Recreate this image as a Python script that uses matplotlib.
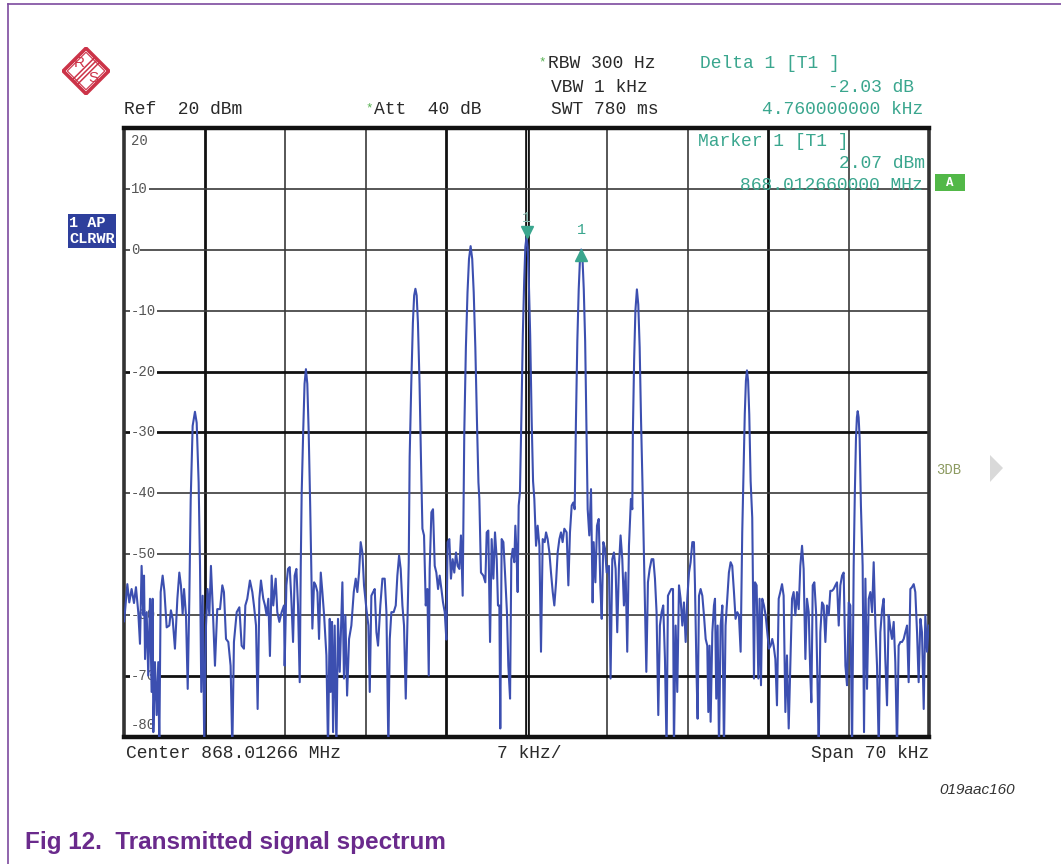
import numpy as np
import matplotlib
matplotlib.use('Agg')
from matplotlib import pyplot as plt
from matplotlib.lines import Line2D
from matplotlib.patches import Polygon, Rectangle
from matplotlib import transforms

W, H = 1061, 864

# trace, frequency offset from centre [kHz] and level [dBm]
freq_khz = [
    -35.00, -34.92, -34.71, -34.54, -34.34, -34.13, -33.96, -33.76, -33.61, -33.47,
    -33.32, -33.26, -33.17, -33.03, -32.89, -32.74, -32.60, -32.51, -32.45, -32.31,
    -32.16, -32.02, -31.93, -31.81, -31.64, -31.49, -31.29, -31.06, -30.92, -30.77,
    -30.57, -30.36, -30.19, -30.05, -29.90, -29.78, -29.61, -29.46, -29.32, -29.20,
    -29.03, -28.83, -28.68, -28.51, -28.39, -28.28, -28.16, -28.02, -27.87, -27.73,
    -27.58, -27.44, -27.29, -27.09, -26.89, -26.65, -26.45, -26.31, -26.13, -25.93,
    -25.73, -25.58, -25.44, -25.20, -24.97, -24.77, -24.57, -24.45, -24.28, -24.05,
    -23.84, -23.70, -23.52, -23.38, -23.23, -23.09, -22.89, -22.74, -22.60, -22.45,
    -22.31, -22.16, -22.02, -21.81, -21.67, -21.49, -21.29, -21.09, -21.03, -20.88,
    -20.74, -20.59, -20.45, -20.30, -20.16, -20.01, -19.87, -19.72, -19.63, -19.55,
    -19.42, -19.30, -19.18, -19.06, -18.94, -18.81, -18.62, -18.47, -18.33, -18.18,
    -18.04, -17.89, -17.75, -17.60, -17.40, -17.26, -17.11, -17.03, -16.91, -16.82,
    -16.68, -16.53, -16.39, -16.24, -16.10, -16.01, -15.87, -15.75, -15.60, -15.43,
    -15.23, -15.02, -14.85, -14.71, -14.56, -14.42, -14.27, -14.13, -13.92, -13.75,
    -13.63, -13.49, -13.34, -13.20, -13.05, -12.91, -12.71, -12.53, -12.33, -12.18,
    -12.01, -11.89, -11.75, -11.55, -11.37, -11.23, -11.08, -10.94, -10.79, -10.65,
    -10.50, -10.39, -10.24, -10.16, -10.02, -9.88, -9.77, -9.66, -9.55, -9.44,
    -9.30, -9.16, -9.05, -8.91, -8.76, -8.62, -8.50, -8.42, -8.27, -8.13,
    -7.98, -7.84, -7.69, -7.55, -7.40, -7.26, -7.11, -6.97, -6.86, -6.71,
    -6.57, -6.42, -6.28, -6.13, -5.99, -5.84, -5.70, -5.55, -5.41, -5.27,
    -5.13, -5.00, -4.86, -4.72, -4.59, -4.45, -4.31, -4.18, -4.10, -3.96,
    -3.75, -3.58, -3.46, -3.32, -3.17, -3.03, -2.88, -2.74, -2.59, -2.48,
    -2.36, -2.28, -2.16, -2.01, -1.87, -1.70, -1.58, -1.43, -1.32, -1.20,
    -1.06, -0.97, -0.86, -0.77, -0.68, -0.57, -0.45, -0.32, -0.20, -0.10,
    0.00, 0.10, 0.20, 0.32, 0.45, 0.57, 0.68, 0.83, 0.97, 1.12,
    1.26, 1.41, 1.58, 1.70, 1.84, 1.99, 2.13, 2.28, 2.42, 2.57,
    2.71, 2.86, 3.00, 3.14, 3.29, 3.49, 3.64, 3.78, 3.93, 4.07,
    4.19, 4.30, 4.42, 4.54, 4.65, 4.76, 4.87, 4.98, 5.10, 5.22,
    5.32, 5.46, 5.61, 5.75, 5.84, 5.99, 6.13, 6.28, 6.42, 6.54,
    6.68, 6.83, 6.97, 7.17, 7.31, 7.46, 7.60, 7.75, 7.89, 8.04,
    8.18, 8.33, 8.47, 8.62, 8.76, 8.91, 9.08, 9.20, 9.25, 9.36,
    9.47, 9.60, 9.72, 9.84, 9.96, 10.08, 10.27, 10.42, 10.56, 10.71,
    10.88, 11.03, 11.17, 11.31, 11.46, 11.60, 11.75, 11.89, 12.04, 12.18,
    12.30, 12.45, 12.59, 12.74, 12.82, 12.97, 13.11, 13.26, 13.40, 13.55,
    13.69, 13.84, 13.98, 14.13, 14.27, 14.42, 14.56, 14.65, 14.79, 14.88,
    15.00, 15.14, 15.29, 15.43, 15.58, 15.72, 15.81, 15.92, 16.01, 16.16,
    16.30, 16.39, 16.50, 16.62, 16.74, 16.88, 17.03, 17.17, 17.31, 17.46,
    17.60, 17.75, 17.89, 18.04, 18.18, 18.33, 18.47, 18.62, 18.76, 18.88,
    18.98, 19.08, 19.17, 19.27, 19.37, 19.49, 19.63, 19.78, 19.87, 20.01,
    20.16, 20.27, 20.39, 20.50, 20.65, 20.79, 20.94, 21.08, 21.23, 21.37,
    21.49, 21.64, 21.78, 21.93, 22.07, 22.22, 22.36, 22.51, 22.65, 22.80,
    22.94, 23.09, 23.23, 23.38, 23.52, 23.67, 23.81, 23.96, 24.10, 24.25,
    24.39, 24.54, 24.68, 24.77, 24.89, 25.03, 25.18, 25.32, 25.41, 25.55,
    25.70, 25.84, 25.99, 26.13, 26.28, 26.42, 26.57, 26.71, 26.86, 27.00,
    27.15, 27.29, 27.44, 27.58, 27.73, 27.87, 28.02, 28.16, 28.31, 28.45,
    28.55, 28.65, 28.73, 28.80, 28.88, 28.97, 29.08, 29.23, 29.35, 29.47,
    29.61, 29.76, 29.90, 30.05, 30.19, 30.34, 30.48, 30.63, 30.77, 30.92,
    31.06, 31.20, 31.35, 31.49, 31.64, 31.78, 31.93, 32.07, 32.22, 32.36,
    32.51, 32.65, 32.80, 32.94, 33.09, 33.23, 33.38, 33.52, 33.67, 33.81,
    33.96, 34.10, 34.25, 34.39, 34.54, 34.68, 34.83, 34.97,
]
level_dbm = [
    -61.0, -59.5, -54.9, -57.9, -55.7, -58.0, -55.4, -59.5, -64.7, -51.9,
    -60.0, -53.5, -67.2, -59.5, -69.9, -57.3, -72.6, -57.3, -79.2, -67.7,
    -76.4, -67.7, -82.0, -56.2, -53.5, -56.0, -62.0, -61.7, -59.2, -60.6,
    -65.5, -57.3, -53.0, -55.1, -59.8, -55.7, -60.0, -72.1, -57.3, -41.0,
    -28.9, -26.6, -28.4, -38.2, -51.9, -72.6, -56.8, -82.0, -61.7, -55.7,
    -60.0, -51.9, -58.4, -68.3, -59.0, -59.0, -55.1, -56.2, -63.9, -64.4,
    -68.3, -82.0, -64.4, -59.5, -58.7, -65.0, -65.5, -58.4, -57.3, -54.3,
    -56.2, -58.4, -61.7, -75.4, -57.3, -54.3, -57.3, -58.4, -60.0, -57.3,
    -66.7, -53.5, -58.4, -54.0, -59.5, -61.1, -59.5, -58.4, -68.3, -55.1,
    -52.4, -52.1, -57.3, -64.4, -53.5, -52.4, -58.4, -71.0, -51.9, -40.0,
    -30.0, -22.0, -19.6, -22.0, -30.0, -42.0, -62.2, -54.6, -55.1, -56.2,
    -63.9, -53.0, -56.2, -60.0, -66.6, -82.0, -60.6, -72.6, -61.1, -79.2,
    -61.7, -82.0, -60.6, -69.3, -60.6, -54.6, -70.4, -60.0, -73.2, -63.9,
    -61.7, -56.2, -54.0, -56.2, -53.0, -48.0, -49.7, -55.1, -59.0, -61.7,
    -72.6, -56.8, -56.2, -55.7, -62.8, -65.0, -58.4, -54.0, -54.0, -59.5,
    -82.0, -63.9, -59.5, -59.5, -58.4, -53.5, -50.2, -52.4, -58.4, -61.7,
    -73.7, -63.9, -51.3, -34.0, -22.0, -12.0, -7.5, -6.4, -7.5, -12.0,
    -22.0, -36.0, -45.8, -46.9, -58.4, -55.7, -69.9, -52.4, -43.1, -42.6,
    -51.9, -53.0, -55.7, -53.5, -55.7, -57.9, -59.5, -64.0, -48.0, -47.5,
    -54.0, -50.8, -53.0, -49.7, -51.9, -52.4, -46.9, -56.8, -30.0, -16.0,
    -7.0, -1.5, 0.6, -1.5, -7.0, -16.0, -28.0, -38.2, -40.9, -53.0,
    -53.5, -54.6, -46.4, -46.1, -64.4, -47.5, -54.0, -46.4, -50.8, -58.4,
    -58.4, -78.6, -47.5, -48.0, -53.0, -59.5, -68.3, -73.7, -50.8, -49.1,
    -51.3, -45.3, -50.2, -56.2, -42.0, -39.8, -28.0, -14.0, -5.0, 0.5,
    2.07, 0.5, -5.0, -14.0, -28.0, -38.0, -40.9, -48.6, -45.3, -48.6,
    -66.0, -47.5, -48.0, -46.4, -47.5, -49.7, -53.0, -56.2, -58.4, -54.6,
    -49.7, -47.5, -46.4, -48.0, -45.8, -46.4, -55.1, -46.4, -42.0, -41.5,
    -42.6, -28.0, -15.0, -6.5, -1.5, 0.04, -1.5, -6.5, -15.0, -30.0,
    -42.6, -46.9, -39.3, -57.9, -48.0, -54.6, -45.3, -44.2, -55.1, -60.6,
    -48.0, -49.1, -53.0, -51.9, -70.4, -50.8, -49.7, -52.4, -62.8, -51.9,
    -46.9, -50.8, -58.4, -53.0, -66.0, -48.6, -40.9, -42.6, -30.0, -18.0,
    -10.0, -6.5, -9.0, -16.0, -28.0, -38.0, -55.1, -69.3, -54.6, -52.4,
    -50.8, -50.8, -54.0, -59.5, -76.4, -61.7, -59.5, -58.4, -67.2, -82.0,
    -56.8, -56.2, -55.7, -55.7, -82.0, -61.7, -72.6, -55.1, -57.3, -61.7,
    -57.9, -64.4, -57.3, -53.0, -51.3, -48.0, -48.0, -55.1, -69.9, -77.0,
    -56.8, -55.7, -56.8, -60.0, -63.9, -65.0, -75.9, -65.0, -77.5, -62.8,
    -58.4, -57.3, -73.7, -61.7, -82.0, -61.7, -58.4, -82.0, -61.7, -57.3,
    -53.0, -51.3, -51.9, -56.2, -60.6, -59.5, -60.0, -66.0, -46.4, -36.0,
    -27.0, -21.5, -19.8, -21.5, -27.0, -38.0, -44.0, -70.4, -54.6, -55.1,
    -70.4, -57.3, -71.5, -57.3, -58.4, -60.0, -62.8, -65.5, -65.0, -63.9,
    -65.0, -67.2, -74.8, -57.3, -56.2, -54.9, -56.8, -75.9, -66.6, -78.6,
    -68.3, -57.3, -56.2, -60.0, -56.2, -59.0, -51.9, -48.6, -52.4, -67.2,
    -57.3, -59.5, -69.9, -74.3, -55.1, -54.6, -59.5, -72.6, -82.0, -62.8,
    -57.9, -58.4, -64.4, -58.4, -60.0, -56.0, -56.0, -55.7, -55.1, -54.6,
    -61.7, -55.1, -53.5, -53.0, -68.3, -71.5, -57.9, -58.4, -82.0, -51.9,
    -40.0, -31.0, -27.5, -26.5, -27.5, -31.0, -42.0, -51.9, -79.2, -54.0,
    -72.1, -57.3, -56.2, -59.5, -51.3, -61.7, -68.3, -82.0, -62.8, -59.0,
    -57.3, -67.2, -74.8, -60.0, -62.2, -63.9, -61.1, -67.7, -82.0, -65.0,
    -64.4, -64.4, -63.9, -62.8, -61.7, -71.0, -55.7, -55.4, -54.9, -56.2,
    -62.8, -71.0, -60.6, -62.8, -75.4, -60.0, -66.0, -61.7,
]
assert len(freq_khz) == len(level_dbm)

span_khz = 70
div_khz = 7
ref_dbm = 20
bottom_dbm = -80
y_labels = [20, 10, 0, -10, -20, -30, -40, -50, -60, -70, -80]

marker_f, marker_lvl = 0.0, 2.07
delta_f, delta_db = 4.76, -2.03

mono = 'Liberation Mono'
ink = '#2a2a2a'
teal = '#3aa68e'
trace_col = '#3c4fb0'


def put(x, y, s, **kw):
    kw.setdefault('family', mono)
    kw.setdefault('va', 'center')
    kw.setdefault('color', ink)
    return fig.text(x / W, 1 - y / H, s, **kw)


fig = plt.figure(figsize=(W / 100, H / 100), dpi=100)
fig.patch.set_facecolor('white')

ax = fig.add_axes([124 / W, 1 - 737 / H, 805 / W, 609 / H])
ax.set_xlim(-span_khz / 2, span_khz / 2)
ax.set_ylim(bottom_dbm, ref_dbm)
ax.set_xticks([])
ax.set_yticks([])
for s in ['top', 'bottom']:
    ax.spines[s].set_linewidth(3.2)
    ax.spines[s].set_color('#111111')
for s in ['left', 'right']:
    ax.spines[s].set_linewidth(2.6)
    ax.spines[s].set_color('#333333')

# graticule (scan shows some lines heavier than others)
thick_v = [-28, -7, 21]
thick_h = [-20, -30, -70]
for xv in np.arange(-35 + div_khz, 35, div_khz):
    if xv == 0:
        ax.axvline(0, color='#111111', lw=3.4, zorder=1)
        ax.axvline(0, color='#dddddd', lw=0.7, zorder=1)
    elif xv in thick_v:
        ax.axvline(xv, color='#111111', lw=2.0, zorder=1)
    else:
        ax.axvline(xv, color='#3a3a3a', lw=1.2, zorder=1)
for yv in np.arange(bottom_dbm + 10, ref_dbm, 10):
    if yv in thick_h:
        ax.axhline(yv, color='#111111', lw=2.0, zorder=1)
    else:
        ax.axhline(yv, color='#3a3a3a', lw=1.2, zorder=1)

# level labels inside the grid
ylab_tr = transforms.blended_transform_factory(ax.transAxes, ax.transData)
for v in y_labels:
    yy = v
    if v == ref_dbm:
        yy = v - 2.1
    if v == bottom_dbm:
        yy = v + 2.0
    ax.text(0.009, yy, str(v), transform=ylab_tr,
            family=mono, fontsize=10, color='#555555', va='center', ha='left', zorder=2,
            bbox=dict(facecolor='white', edgecolor='none', pad=0.6))

ax.plot(freq_khz, level_dbm, color=trace_col, lw=1.5, zorder=3, clip_on=True)

# markers
off_dn = transforms.ScaledTranslation(0, 0.055, fig.dpi_scale_trans)
off_up = transforms.ScaledTranslation(0, -0.055, fig.dpi_scale_trans)
ax.plot(marker_f, marker_lvl, marker='v', ms=9, color=teal, zorder=5,
        transform=ax.transData + off_dn, clip_on=False)
ax.plot(delta_f, marker_lvl + delta_db, marker='^', ms=9, color=teal, zorder=5,
        transform=ax.transData + off_up, clip_on=False)
ax.annotate('1', (marker_f, marker_lvl), xytext=(0, 19), textcoords='offset pixels',
            ha='center', va='center', family=mono, fontsize=11, color='#88bbb0', zorder=2)
ax.annotate('1', (delta_f, marker_lvl + delta_db), xytext=(0, 20), textcoords='offset pixels',
            ha='center', va='center', family=mono, fontsize=11, color=teal, zorder=4)

# header texts
put(124, 110, 'Ref  20 dBm', fontsize=13)
put(365, 108, '*', fontsize=9, color='#55b050')
put(374, 110, 'Att  40 dB', fontsize=13)
put(538, 62, '*', fontsize=9, color='#55b050')
put(548, 64, 'RBW 300 Hz', fontsize=13)
put(551, 87, 'VBW 1 kHz', fontsize=13)
put(551, 110, 'SWT 780 ms', fontsize=13)
put(700, 64, 'Delta 1 [T1 ]', fontsize=13, color=teal)
put(914, 87, f'{delta_db:.2f} dB', fontsize=13, color=teal, ha='right')
put(923, 110, f'{delta_f:.9f} kHz', fontsize=13, color=teal, ha='right')
put(698, 142, 'Marker 1 [T1 ]', fontsize=13, color=teal, zorder=6)
put(925, 164, f'{marker_lvl:.2f} dBm', fontsize=13, color=teal, ha='right', zorder=6)
put(923, 186, '868.012660000 MHz', fontsize=13, color=teal, ha='right', zorder=6)

# side annotations
fig.add_artist(Rectangle((935 / W, 1 - 191 / H), 30 / W, 17 / H, facecolor='#52b848',
                         edgecolor='none', transform=fig.transFigure))
put(950, 182.5, 'A', fontsize=9, color='white', ha='center', weight='bold')
put(92, 231, '1 AP \nCLRWR', fontsize=11, color='white', ha='center', weight='bold',
    linespacing=1.25, bbox=dict(facecolor='#2e3f9c', edgecolor='none', boxstyle='square,pad=0.1'))
put(936, 470, '3DB', fontsize=10, color='#8c9a60')
fig.add_artist(Polygon([[990 / W, 1 - 455 / H], [1003 / W, 1 - 468 / H], [990 / W, 1 - 482 / H]],
                       closed=True, facecolor='#d9d9d9', edgecolor='none', transform=fig.transFigure))

# footer
put(126, 754, 'Center 868.01266 MHz', fontsize=13)
put(497, 754, f'{div_khz} kHz/', fontsize=13)
put(929, 754, f'Span {span_khz} kHz', fontsize=13, ha='right')

put(1015, 790, '019aac160', family='Liberation Sans', fontsize=11, style='italic',
    color='#333333', ha='right')
put(25, 842, 'Fig 12.  Transmitted signal spectrum', family=['Liberation Sans Narrow', 'Liberation Sans'],
    fontsize=17.5, weight='bold', color='#6a2a8c')

# page frame
purple = '#7d4a9e'
fig.add_artist(Line2D([8 / W, 1], [1 - 4 / H, 1 - 4 / H], color=purple, lw=1.2))
fig.add_artist(Line2D([8 / W, 8 / W], [0, 1 - 4 / H], color=purple, lw=1.2))

# R&S logo
lg = fig.add_axes([62 / W, 1 - 95 / H, 48 / W, 48 / H])
lg.set_xlim(-1, 1)
lg.set_ylim(-1, 1)
lg.axis('off')
red = '#cc3348'
lg.add_patch(Polygon([[0, 0.95], [0.95, 0], [0, -0.95], [-0.95, 0]], closed=True,
                     fill=False, edgecolor=red, lw=2.6))
lg.add_patch(Polygon([[0, 0.78], [0.78, 0], [0, -0.78], [-0.78, 0]], closed=True,
                     fill=False, edgecolor=red, lw=0.8))
for d in [-0.1, 0, 0.1]:
    lg.plot([0.42 + d, -0.42 + d], [0.42 - d, -0.42 - d], color=red, lw=1.1)
lg.text(-0.3, 0.32, 'R', color=red, fontsize=11, ha='center', va='center', family='Liberation Sans')
lg.text(0.3, -0.3, 'S', color=red, fontsize=11, ha='center', va='center', family='Liberation Sans')

fig.savefig('out.png', dpi=100)
